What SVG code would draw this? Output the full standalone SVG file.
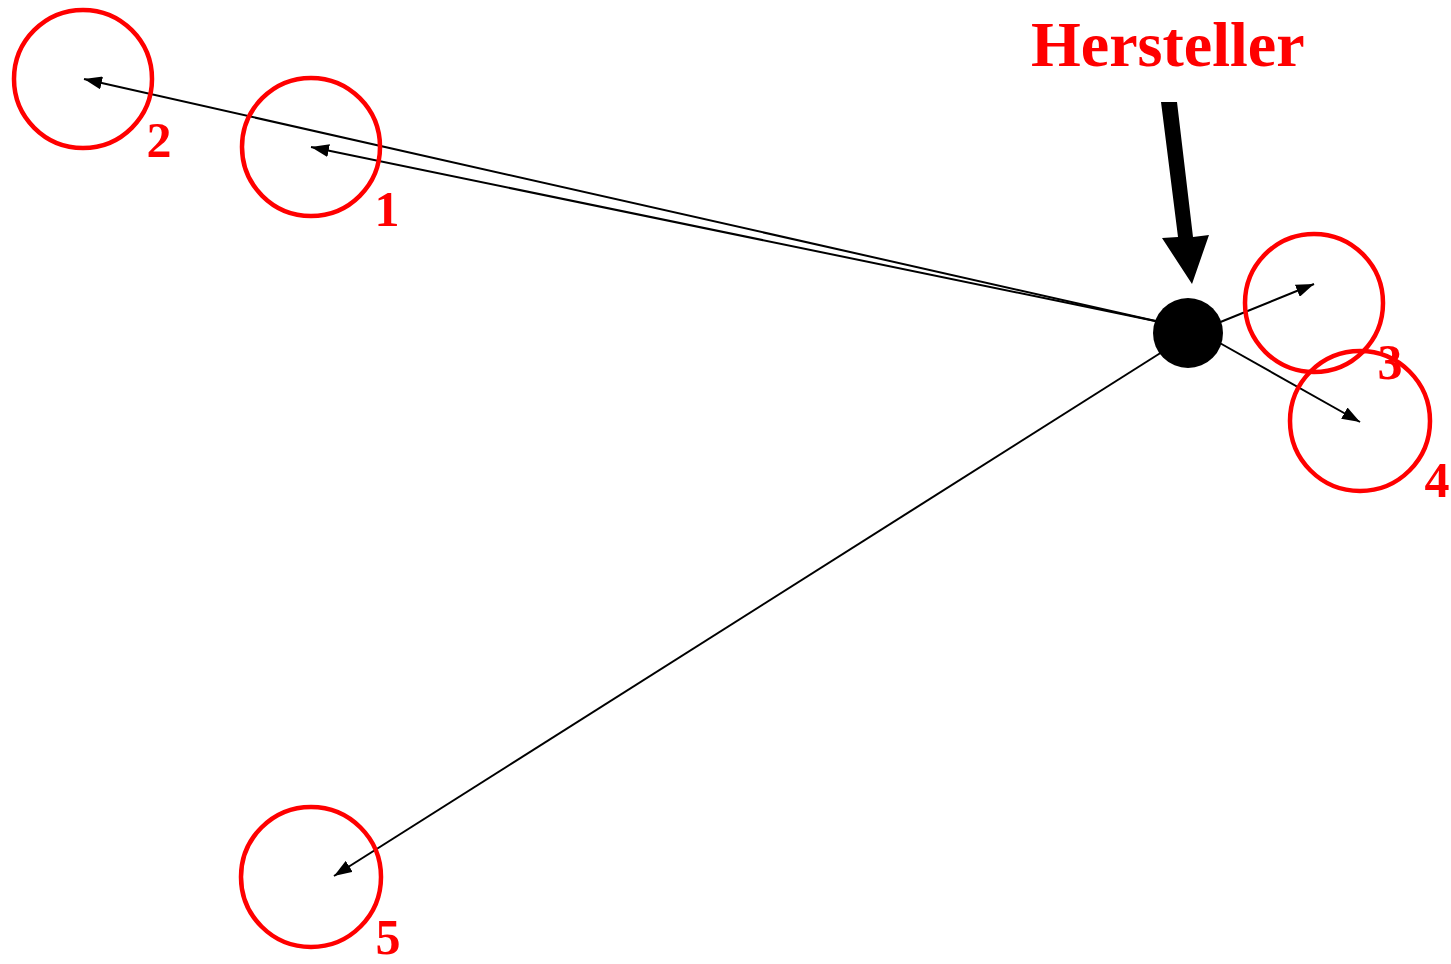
<svg xmlns="http://www.w3.org/2000/svg" width="1451" height="964" viewBox="0 0 1451 964">
<style>
.ring{fill:none;stroke:#ff0000;stroke-width:4.5}
.lbl{font-family:"Liberation Serif","Times New Roman",serif;font-weight:bold;fill:#ff0000;font-size:50px;text-anchor:middle}
.conn{stroke:#000;stroke-width:2;fill:none;marker-end:url(#ah)}
</style>
<defs>
<marker id="ah" viewBox="0 0 18 13" refX="18" refY="6.5" markerWidth="18" markerHeight="13" markerUnits="userSpaceOnUse" orient="auto">
<path d="M0,0 L18,6.5 L0,13 z" fill="#000"/>
</marker>
</defs>
<rect width="1451" height="964" fill="#fff"/>
<g id="connectors">
<line class="conn" x1="1160" y1="322" x2="84" y2="79"/>
<line class="conn" x1="1160" y1="322" x2="311" y2="147"/>
<line class="conn" x1="1218" y1="323" x2="1314" y2="284"/>
<line class="conn" x1="1218" y1="342" x2="1360" y2="422"/>
<line class="conn" x1="1162" y1="352" x2="334" y2="876"/>
</g>
<g id="node1"><circle class="ring" cx="311" cy="147" r="69"/><text class="lbl" x="387" y="226">1</text></g>
<g id="node2"><circle class="ring" cx="83" cy="79" r="69"/><text class="lbl" x="159" y="157">2</text></g>
<g id="node3"><circle class="ring" cx="1314" cy="303" r="69"/><text class="lbl" x="1390" y="379">3</text></g>
<g id="node4"><circle class="ring" cx="1360" cy="421" r="70"/><text class="lbl" x="1437" y="497">4</text></g>
<g id="node5"><circle class="ring" cx="311" cy="877" r="70"/><text class="lbl" x="388" y="954">5</text></g>
<g id="hersteller">
<circle cx="1188" cy="333" r="35" fill="#000"/>
<polygon points="1161,102 1177,102 1193,237 1209,235 1192,284 1162,238 1178,237" fill="#000"/>
<text x="1031" y="66" style="font-family:'Liberation Serif','Times New Roman',serif;font-weight:bold;font-size:64px;fill:#ff0000">Hersteller</text>
</g>
</svg>
